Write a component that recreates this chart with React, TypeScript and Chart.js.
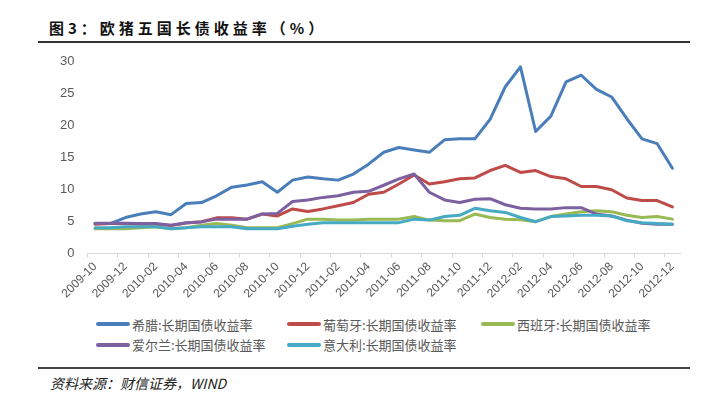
import React, { useEffect, useRef } from "react";
import { Chart, registerables } from "chart.js";
Chart.register(...registerables);

const months = [
  "2009-10", "2009-11", "2009-12", "2010-01", "2010-02", "2010-03", "2010-04", "2010-05",
  "2010-06", "2010-07", "2010-08", "2010-09", "2010-10", "2010-11", "2010-12", "2011-01",
  "2011-02", "2011-03", "2011-04", "2011-05", "2011-06", "2011-07", "2011-08", "2011-09",
  "2011-10", "2011-11", "2011-12", "2012-01", "2012-02", "2012-03", "2012-04", "2012-05",
  "2012-06", "2012-07", "2012-08", "2012-09", "2012-10", "2012-11", "2012-12",
];

const greece = [4.7, 4.7, 5.65, 6.2, 6.55, 6.1, 7.85, 8.0, 9.05, 10.4, 10.75, 11.25, 9.6, 11.5, 12.0, 11.7, 11.5, 12.45, 14.0, 15.85, 16.6, 16.2, 15.85, 17.8, 17.95, 17.95, 21.0, 26.1, 29.2, 19.1, 21.5, 26.85, 27.9, 25.7, 24.5, 21.1, 17.95, 17.2, 13.35];
const portugal = [4.6, 4.7, 4.7, 4.6, 4.6, 4.4, 4.8, 5.0, 5.6, 5.6, 5.4, 6.2, 5.9, 7.0, 6.6, 7.0, 7.5, 8.0, 9.3, 9.6, 10.9, 12.3, 10.9, 11.25, 11.7, 11.85, 13.0, 13.8, 12.7, 13.0, 12.05, 11.7, 10.5, 10.5, 10.0, 8.7, 8.3, 8.3, 7.3];
const spain = [3.9, 3.9, 3.9, 4.05, 4.2, 3.9, 4.05, 4.45, 4.7, 4.45, 4.05, 4.05, 4.05, 4.7, 5.4, 5.4, 5.25, 5.25, 5.4, 5.4, 5.4, 5.8, 5.25, 5.15, 5.15, 6.2, 5.65, 5.4, 5.3, 5.0, 5.8, 6.2, 6.55, 6.7, 6.55, 6.0, 5.65, 5.8, 5.4];
const ireland = [4.75, 4.75, 4.75, 4.7, 4.7, 4.45, 4.85, 4.97, 5.4, 5.4, 5.4, 6.2, 6.3, 8.15, 8.4, 8.8, 9.05, 9.6, 9.75, 10.7, 11.7, 12.45, 9.6, 8.4, 8.0, 8.5, 8.6, 7.65, 7.1, 6.97, 6.97, 7.2, 7.2, 6.2, 5.9, 5.25, 4.75, 4.6, 4.6];
const italy = [4.05, 4.05, 4.2, 4.2, 4.2, 3.9, 4.05, 4.2, 4.2, 4.2, 3.9, 3.9, 3.9, 4.3, 4.6, 4.85, 4.85, 4.85, 4.85, 4.85, 4.85, 5.4, 5.25, 5.8, 6.0, 7.1, 6.7, 6.45, 5.65, 5.0, 5.8, 5.9, 6.0, 6.0, 5.9, 5.15, 4.85, 4.7, 4.6];

const seriesNames = [
  "希腊:长期国债收益率",
  "葡萄牙:长期国债收益率",
  "西班牙:长期国债收益率",
  "爱尔兰:长期国债收益率",
  "意大利:长期国债收益率",
];
const seriesValues = [greece, portugal, spain, ireland, italy];
const seriesColors = ["#4A7EBB", "#BE4B48", "#98B954", "#7D60A0", "#46AAC5"];

const yTicks = [0, 5, 10, 15, 20, 25, 30];

const title = "图3：欧猪五国长债收益率（%）";
const source = "资料来源：财信证券，WIND";

const xFont = { family: "'Liberation Sans', Arial, sans-serif", size: 12 };
const yFont = { family: "'Liberation Sans', Arial, sans-serif", size: 13 };

export default function App() {
  const ref = useRef<HTMLCanvasElement>(null);

  useEffect(() => {
    const canvas = ref.current;
    if (!canvas) return;
    const chart = new Chart(canvas, {
      type: "line",
      data: {
        labels: months,
        datasets: seriesValues.map((vals, i) => ({
          label: seriesNames[i],
          data: vals,
          borderColor: seriesColors[i],
          backgroundColor: seriesColors[i],
          borderWidth: 3,
          pointRadius: 0,
          tension: 0,
          fill: false,
          order: seriesValues.length - i,
          borderJoinStyle: "round" as const,
          borderCapStyle: "round" as const,
        })),
      },
      options: {
        responsive: false,
        animation: false,
        layout: { padding: { left: 47, right: 36, top: 8, bottom: 6 } },
        plugins: {
          legend: { display: false },
          tooltip: { enabled: false },
          title: { display: false },
        },
        scales: {
          x: {
            offset: true,
            grid: {
              offset: true,
              drawOnChartArea: false,
              drawTicks: true,
              tickLength: 4,
              tickColor: (ctx: any) =>
                typeof ctx.index === "number" && ctx.index % 2 === 0 ? "#D9D9D9" : "rgba(0,0,0,0)",
            },
            border: { display: true, color: "#D9D9D9", width: 1 },
            ticks: {
              autoSkip: false,
              maxRotation: 45,
              minRotation: 45,
              color: "#595959",
              font: xFont,
              padding: 2,
              callback: (_v: any, i: number) => (i % 2 === 0 ? months[i] : ""),
            },
          },
          y: {
            min: yTicks[0],
            max: yTicks[yTicks.length - 1],
            afterBuildTicks: (scale: any) => {
              scale.ticks = yTicks.map((v) => ({ value: v }));
            },
            grid: { display: false, drawTicks: false },
            border: { display: false },
            ticks: { color: "#595959", font: yFont, padding: 13 },
          },
        },
      },
    });
    return () => chart.destroy();
  }, []);

  const cols = [96, 287, 481];
  const rows = [324, 344.5];

  return (
    <div
      style={{
        position: "absolute",
        left: 0,
        top: 0,
        width: 716,
        height: 404,
        background: "#fff",
        overflow: "hidden",
        fontFamily: "'Noto Sans CJK SC', sans-serif",
      }}
    >
      <div
        style={{
          position: "absolute",
          left: 49,
          top: 18,
          fontSize: 15,
          fontWeight: 700,
          letterSpacing: 4,
          color: "#111",
          lineHeight: "20px",
          whiteSpace: "nowrap",
        }}
      >
        {title}
      </div>
      <div style={{ position: "absolute", left: 38, top: 41, width: 652, height: 2, background: "#333" }} />
      <canvas
        ref={ref}
        width={716}
        height={268}
        style={{ position: "absolute", left: 0, top: 41, width: 716, height: 268 }}
      />
      {seriesNames.map((name, i) => (
        <div
          key={name}
          style={{
            position: "absolute",
            left: cols[i % 3],
            top: rows[Math.floor(i / 3)] - 10,
            height: 20,
            display: "flex",
            alignItems: "center",
            whiteSpace: "nowrap",
          }}
        >
          <span
            style={{
              display: "inline-block",
              width: 34,
              height: 4,
              borderRadius: 2,
              background: seriesColors[i],
              marginRight: 2,
            }}
          />
          <span style={{ fontSize: 13, color: "#595959" }}>{name}</span>
        </div>
      ))}
      <div style={{ position: "absolute", left: 38, top: 367, width: 652, height: 2, background: "#444" }} />
      <div
        style={{
          position: "absolute",
          left: 50,
          top: 374,
          fontSize: 14,
          fontStyle: "italic",
          color: "#222",
          lineHeight: "18px",
          whiteSpace: "nowrap",
        }}
      >
        {source}
      </div>
    </div>
  );
}
